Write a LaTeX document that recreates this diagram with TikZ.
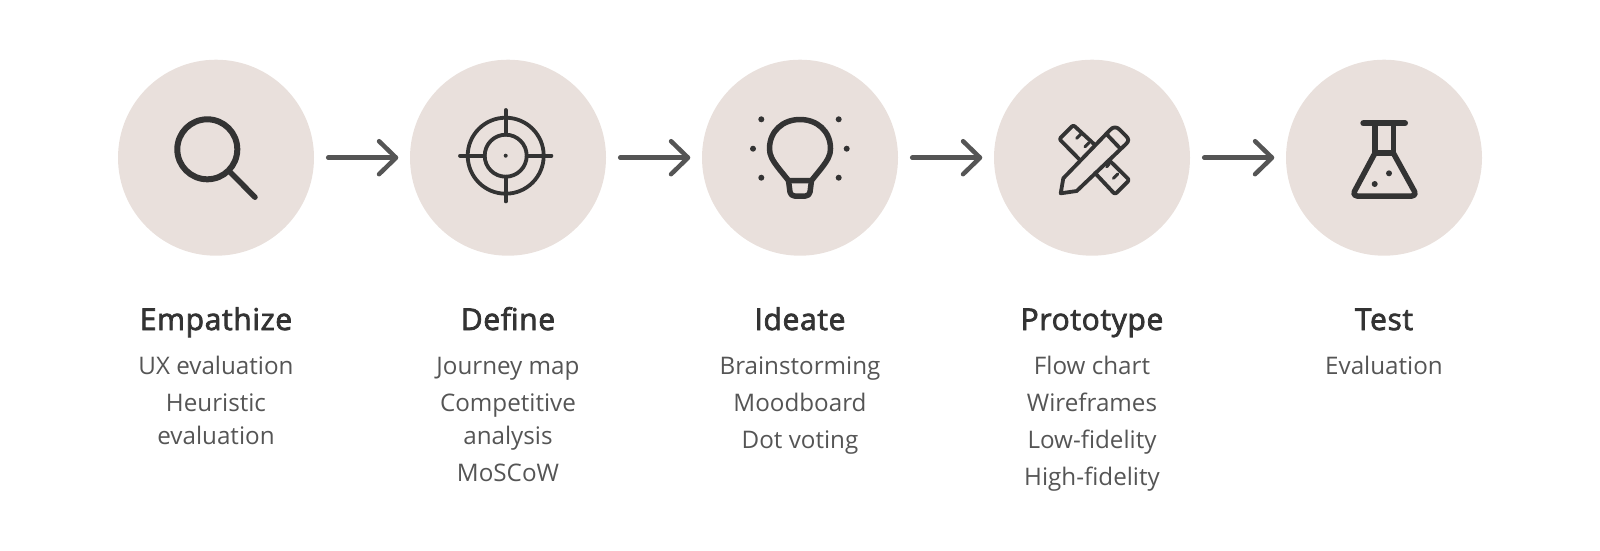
\documentclass[tikz,border=0pt]{standalone}
\usepackage{xcolor}
\usepackage{fontspec}
\setmainfont{Open Sans}
\newfontfamily\headfont[FakeBold=2.5,LetterSpace=2.2]{Open Sans}
\usetikzlibrary{arrows.meta, positioning}
\definecolor{stagecircle}{HTML}{E9E0DC}
\definecolor{stageink}{HTML}{333333}
\definecolor{stagetext}{HTML}{555555}
\newcommand{\topline}{\rule{0pt}{22pt}}
\begin{document}
\begin{tikzpicture}[
  x=1pt, y=-1pt,
  stage/.style={circle, fill=stagecircle, minimum size=196pt, inner sep=0pt},
  arr/.style={-{Straight Barb[length=17pt,width=33pt,round]}, line width=4.5pt, line cap=round, line join=round, stagetext, shorten <=14pt, shorten >=11.5pt, yshift=-0.5pt},
  title/.style={anchor=base, font=\headfont\fontsize{30}{36}\selectfont, text=stageink, inner sep=0pt},
  items/.style={anchor=north, align=center, font=\fontsize{24.2}{33}\selectfont, text=stagetext, inner sep=0pt},
  icon/.style={draw=stageink, line width=3.8pt, line cap=round, line join=round},
  spot/.style={fill=stageink}
]
\path[use as bounding box] (0,0) rectangle (1600,550);

\node[stage] (s1) at (216,157.7) {};
\node[stage] (s2) at (508,157.7) {};
\node[stage] (s3) at (800,157.7) {};
\node[stage] (s4) at (1092,157.7) {};
\node[stage] (s5) at (1384,157.7) {};

\draw[arr] (s1) -- (s2);
\draw[arr] (s2) -- (s3);
\draw[arr] (s3) -- (s4);
\draw[arr] (s4) -- (s5);

% magnifier
\draw[icon, line width=6pt] (207.3,149.3) circle (30);
\draw[icon, line width=5.5pt] (229.5,171.5) -- (255,197.2);

% target
\draw[icon] (505.7,155.7) circle (38);
\draw[icon] (505.7,155.7) circle (21);
\draw[icon] (505.7,110) -- (505.7,134.7);
\draw[icon] (505.7,176.7) -- (505.7,201.4);
\draw[icon] (460,155.7) -- (484.7,155.7);
\draw[icon] (526.7,155.7) -- (551.4,155.7);
\fill[spot] (505.7,155.7) circle (2);

% bulb
\draw[icon, line width=5.5pt] (788.5,180.5) -- (780,170) .. controls (772,160) and (769.5,155) .. (769.5,148.7)
  .. controls (769.5,131) and (783,119.5) .. (800,119.5) .. controls (817,119.5) and (830.5,131) .. (830.5,148.7)
  .. controls (830.5,155) and (828,160) .. (820,170) -- (811.5,180.5) -- cycle;
\draw[icon, line width=5.5pt, rounded corners=4pt] (788.5,180.5) -- (790.5,196) -- (809.5,196) -- (811.5,180.5);
\fill[spot] (761.3,119.3) circle (3);
\fill[spot] (838.7,119.3) circle (3);
\fill[spot] (753,148.7) circle (3);
\fill[spot] (846.7,148.7) circle (3);
\fill[spot] (761.3,177.7) circle (3);
\fill[spot] (838.7,177.7) circle (3);

% ruler and pencil
\draw[icon, rounded corners=2pt] (1080,160) -- (1059.3,139) -- (1073.3,125) -- (1095,145);
\draw[icon, rounded corners=2pt] (1095,173) -- (1115,194.3) -- (1129.3,180) -- (1109,160);
\draw[icon, line width=3pt] (1076.7,138.3) -- (1080.7,134.3);
\draw[icon, line width=3pt] (1085,146.7) -- (1089,142.7);
\draw[icon, line width=3pt] (1106.7,166.7) -- (1109.3,164);
\draw[icon, line width=3pt] (1113.3,178.3) -- (1117.7,174);
\draw[icon] (1060.7,193.3) -- (1063.3,178.3) -- (1110,130) .. controls (1113,126.5) and (1117,126.5) .. (1120,130) -- (1126,136) .. controls (1129,139) and (1129,141) .. (1126,144) -- (1076.7,191) -- cycle;
\draw[icon] (1106.7,134.3) -- (1120,148.3);

% flask
\draw[icon, line width=6pt] (1363.3,123.3) -- (1405,123.3);
\draw[icon, line width=5.5pt] (1375,123.3) -- (1375,153) -- (1393.3,153) -- (1393.3,123.3);
\draw[icon, line width=5.5pt, rounded corners=5pt] (1375,153) -- (1352,196) -- (1417,196) -- (1393.3,153);
\fill[spot] (1389,173.3) circle (3);
\fill[spot] (1374.7,184) circle (3);

\node[title] (t1) at (216,330) {Empathize};
\node[title] (t2) at (508,330) {Define};
\node[title] (t3) at (800,330) {Ideate};
\node[title] (t4) at (1092,330) {Prototype};
\node[title] (t5) at (1384,330) {Test};

\node[items] (i1) at (216,352.3) {\topline UX evaluation\\[4pt]Heuristic\\evaluation};
\node[items] (i2) at (508,352.3) {\topline Journey map\\[4pt]Competitive\\analysis\\[4pt]MoSCoW};
\node[items] (i3) at (800,352.3) {\topline Brainstorming\\[4pt]Moodboard\\[4pt]Dot voting};
\node[items] (i4) at (1092,352.3) {\topline Flow chart\\[4pt]Wireframes\\[4pt]Low-fidelity\\[4pt]High-fidelity};
\node[items] (i5) at (1384,352.3) {\topline Evaluation};
\end{tikzpicture}
\end{document}
